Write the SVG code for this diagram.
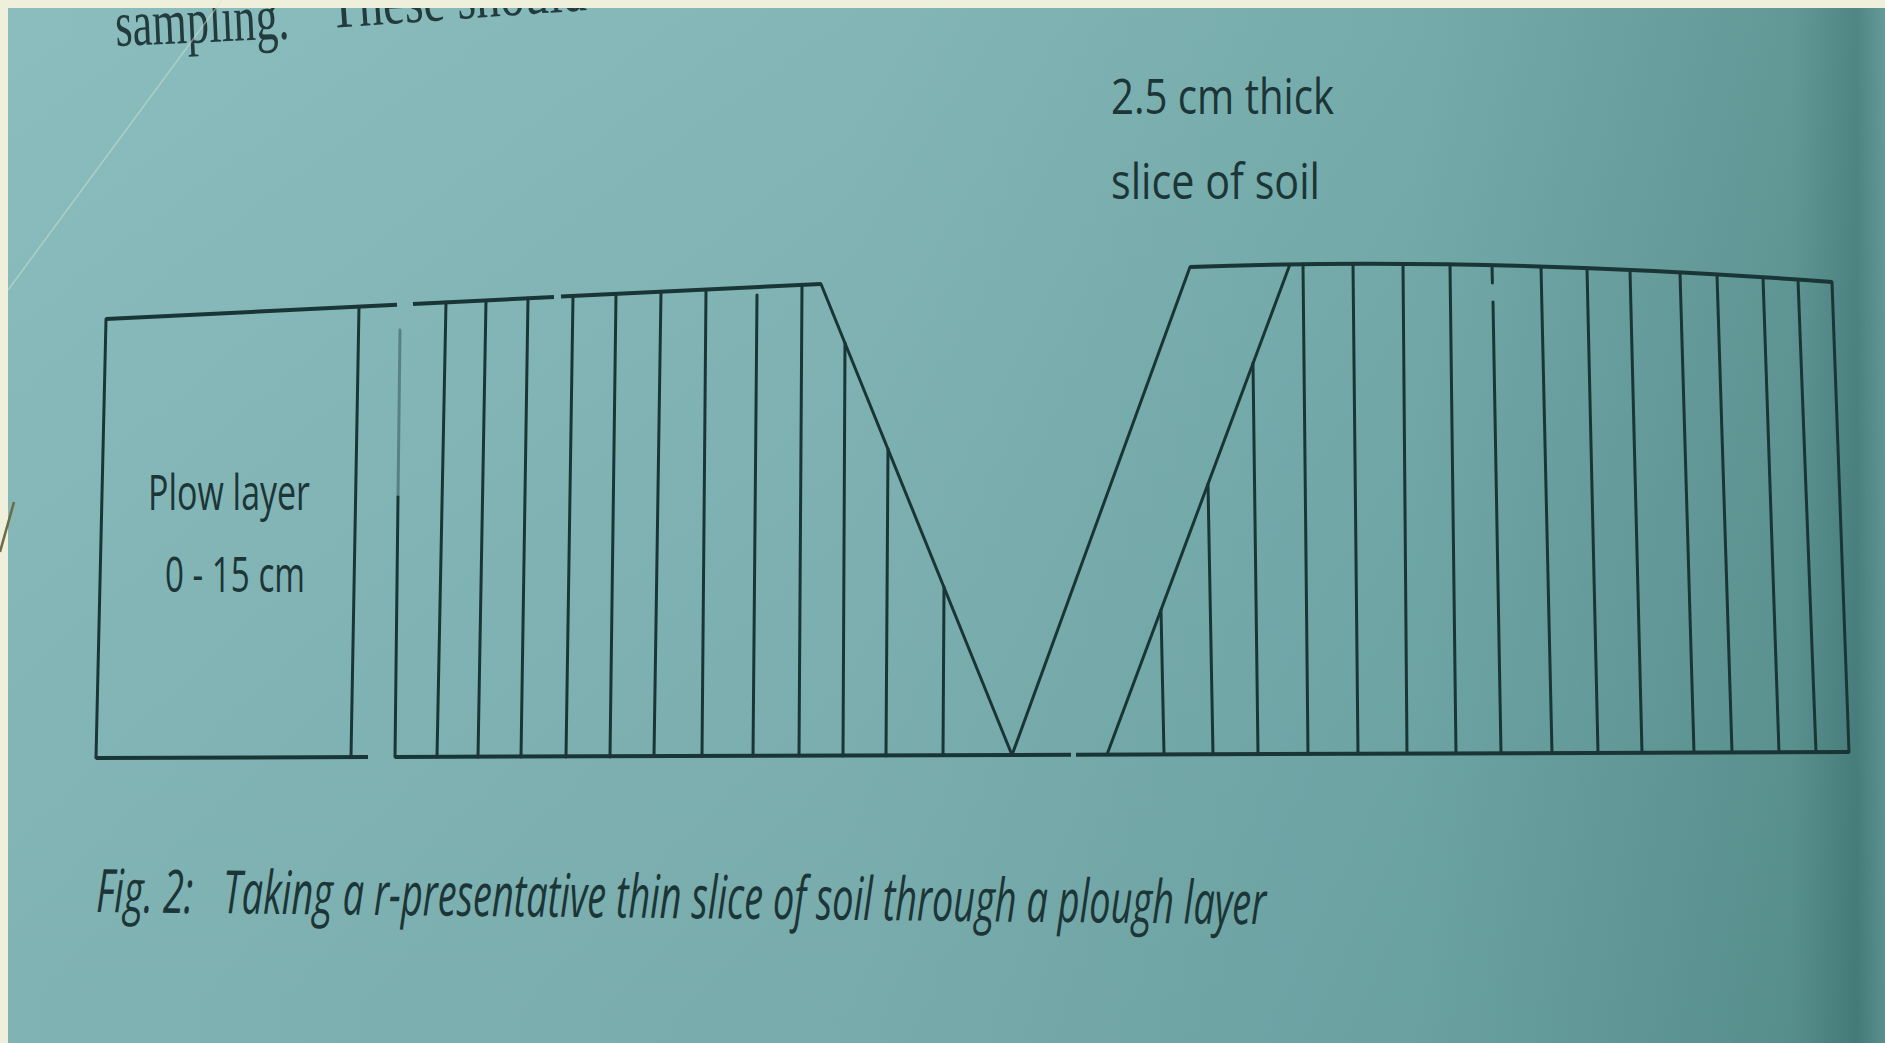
<svg xmlns="http://www.w3.org/2000/svg" width="1885" height="1043" viewBox="0 0 1885 1043">
<defs>
<linearGradient id="page" x1="0" y1="0" x2="1885" y2="0" gradientUnits="userSpaceOnUse">
<stop offset="0" stop-color="#85babb"/>
<stop offset="0.45" stop-color="#7db2b3"/>
<stop offset="0.75" stop-color="#6ea7a7"/>
<stop offset="0.95" stop-color="#5a9492"/>
<stop offset="0.985" stop-color="#467f7d"/>
<stop offset="1" stop-color="#5c9694"/>
</linearGradient>
<linearGradient id="shade" x1="0" y1="0" x2="0" y2="1043" gradientUnits="userSpaceOnUse">
<stop offset="0" stop-color="#ffffff" stop-opacity="0.05"/>
<stop offset="1" stop-color="#000000" stop-opacity="0.04"/>
</linearGradient>
</defs>
<style>
.ln{stroke:#1a3536;stroke-width:3;fill:none;stroke-linecap:round}
.edge{stroke:#1a3536;stroke-width:4;fill:none;stroke-linecap:butt}
.lbl{font-family:"Open Sans","DejaVu Sans",sans-serif;font-size:50px;fill:#1c3536}
.cap{font-family:"Open Sans","DejaVu Sans",sans-serif;font-size:33px;font-style:italic;fill:#1c3536;white-space:pre}
.body{font-family:"Liberation Serif","Times New Roman",serif;font-size:65px;fill:#233b3c}
</style>
<g id="page-background">
<rect x="0" y="0" width="1885" height="1043" fill="url(#page)"/>
<rect x="0" y="0" width="1885" height="1043" fill="url(#shade)"/>
</g>
<g id="top-text">
<text class="body" x="116" y="46" transform="rotate(-2.5 116 46)" textLength="174" lengthAdjust="spacingAndGlyphs">sampling.</text>
<text class="body" x="330" y="28" transform="rotate(-4 330 28)" textLength="258" lengthAdjust="spacingAndGlyphs">These should</text>
</g>
<g id="plow-layer-block">
<path class="edge" d="M106,319 L397,304.7"/>
<line class="ln" x1="106" y1="319" x2="96" y2="758"/>
<line class="ln" x1="359" y1="306.6" x2="351" y2="757"/>
<path class="edge" d="M96,758 L368,757.1"/>
</g>
<g id="slices-left">
<path class="edge" d="M413,303.9 L554,297 M561,296.6 L821,284"/>
<line class="ln" x1="400" y1="330" x2="398" y2="497" opacity="0.4"/>
<line class="ln" x1="398" y1="497" x2="395" y2="757"/>
<line class="ln" x1="446" y1="302.3" x2="437" y2="757"/>
<line class="ln" x1="486" y1="300.4" x2="478" y2="757"/>
<line class="ln" x1="528" y1="298.3" x2="521" y2="757"/>
<line class="ln" x1="573" y1="296.1" x2="566" y2="757"/>
<line class="ln" x1="616" y1="294" x2="610" y2="757"/>
<line class="ln" x1="661" y1="291.8" x2="654" y2="756"/>
<line class="ln" x1="706" y1="289.6" x2="702" y2="756"/>
<line class="ln" x1="757" y1="295" x2="753" y2="756"/>
<line class="ln" x1="802" y1="284.9" x2="799" y2="756"/>
<line class="ln" x1="821" y1="284" x2="1012" y2="755"/>
<line class="ln" x1="845" y1="343" x2="843" y2="756"/>
<line class="ln" x1="888" y1="449" x2="886" y2="756"/>
<line class="ln" x1="944" y1="587" x2="943" y2="755"/>
</g>
<g id="bottom-line">
<path class="edge" d="M395,757 L1071,754.7 M1076,754.7 L1849,752"/>
</g>
<g id="slice-cut">
<line class="ln" x1="1012" y1="755" x2="1190" y2="267"/>
<line class="ln" x1="1290" y1="264.3" x2="1107" y2="754.5"/>
</g>
<g id="slices-right">
<path class="edge" d="M1190,267 Q1480,256 1832,282"/>
<line class="ln" x1="1832" y1="282" x2="1849" y2="752"/>
<line class="ln" x1="1161" y1="610" x2="1164" y2="754"/>
<line class="ln" x1="1208" y1="484" x2="1213" y2="754"/>
<line class="ln" x1="1253" y1="363" x2="1258" y2="754"/>
<line class="ln" x1="1303" y1="264.1" x2="1308" y2="754"/>
<line class="ln" x1="1353" y1="263.7" x2="1358" y2="753.7"/>
<line class="ln" x1="1403" y1="263.8" x2="1407" y2="753.5"/>
<line class="ln" x1="1450" y1="264.3" x2="1456" y2="753.4"/>
<line class="ln" x1="1492" y1="265.2" x2="1492.4" y2="283"/>
<line class="ln" x1="1493" y1="302" x2="1501" y2="753.2"/>
<line class="ln" x1="1541" y1="266.7" x2="1552" y2="753"/>
<line class="ln" x1="1587" y1="268.5" x2="1598" y2="752.8"/>
<line class="ln" x1="1630" y1="270.2" x2="1642" y2="752.7"/>
<line class="ln" x1="1680" y1="272.7" x2="1694" y2="752.5"/>
<line class="ln" x1="1717" y1="274.7" x2="1732" y2="752.4"/>
<line class="ln" x1="1763" y1="277.3" x2="1779" y2="752.2"/>
<line class="ln" x1="1798" y1="279.6" x2="1816" y2="752.1"/>
</g>
<g id="labels">
<text class="lbl" x="148" y="510" textLength="162" lengthAdjust="spacingAndGlyphs">Plow layer</text>
<text class="lbl" x="165" y="592" textLength="140" lengthAdjust="spacingAndGlyphs">0 - 15 cm</text>
<text class="lbl" x="1111" y="114" textLength="223" lengthAdjust="spacingAndGlyphs">2.5 cm thick</text>
<text class="lbl" x="1111" y="199" textLength="209" lengthAdjust="spacingAndGlyphs">slice of soil</text>
</g>
<g id="caption" transform="rotate(0.6 96 912) translate(0 912) scale(1 1.8182)">
<text class="cap" x="96" y="0" xml:space="preserve" textLength="1170" lengthAdjust="spacingAndGlyphs">Fig. 2:   Taking a r-presentative thin slice of soil through a plough layer</text>
</g>
<g id="slide-frame">
<rect x="0" y="0" width="1885" height="8" fill="#eef0dc"/>
<rect x="0" y="0" width="8" height="1043" fill="#eef0dc"/>
<line x1="222" y1="0" x2="8" y2="290" stroke="#d6e3cf" stroke-width="1.5" opacity="0.5"/>
<line x1="14" y1="502" x2="0" y2="552" stroke="#6e6a48" stroke-width="2.5"/>
</g>
</svg>
